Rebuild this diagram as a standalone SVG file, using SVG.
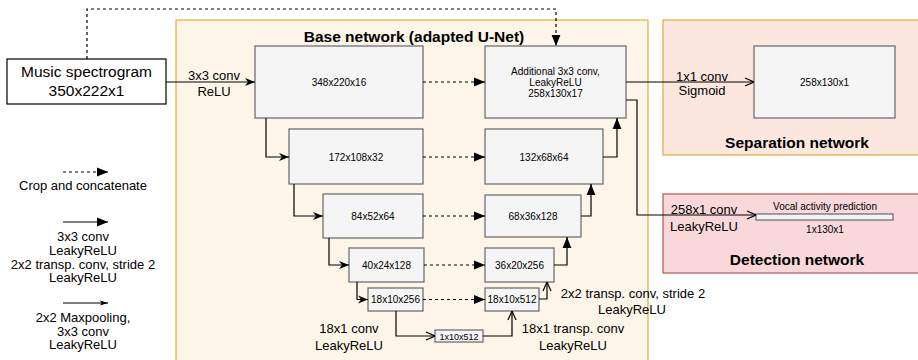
<svg xmlns="http://www.w3.org/2000/svg" width="918" height="360" viewBox="0 0 918 360">
<style>
text{font-family:"Liberation Sans",Arial,sans-serif;fill:#000}
.lbl{font-size:13px;text-anchor:middle}
.box{fill:#f5f5f5;stroke:#666;stroke-width:1.2}
.bt{font-size:10px;text-anchor:middle}
.title{font-size:15.5px;font-weight:bold;text-anchor:middle}
.c{fill:none;stroke:#000;stroke-width:1.2}
.d{stroke-dasharray:3,3}
</style>
<defs>
<marker id="blk" viewBox="0 0 10 10" refX="10" refY="5" markerWidth="11" markerHeight="11" markerUnits="userSpaceOnUse" orient="auto"><path d="M0,1 L10,5 L0,9 z" fill="#000"/></marker>
<marker id="cls" viewBox="0 0 10 10" refX="10" refY="5" markerWidth="11" markerHeight="10" markerUnits="userSpaceOnUse" orient="auto"><path d="M0,1 L10,5 L0,9 L3,5 z" fill="#000"/></marker>
<marker id="thin" viewBox="0 0 10 10" refX="10" refY="5" markerWidth="11" markerHeight="8" markerUnits="userSpaceOnUse" orient="auto"><path d="M0,2 L10,5 L0,8 L2,5 z" fill="#000"/></marker>
<marker id="opn" viewBox="0 0 10 10" refX="10" refY="5" markerWidth="10" markerHeight="10" markerUnits="userSpaceOnUse" orient="auto"><path d="M1,1 L10,5 L1,9" fill="none" stroke="#000" stroke-width="1.2"/></marker>
</defs>
<rect width="918" height="360" fill="#fff"/>

<g id="base-network">
<rect x="176" y="20" width="472" height="360" fill="#fdf6e8" stroke="#dcae3c" stroke-width="1.2"/>
<text class="title" x="414" y="42">Base network (adapted U-Net)</text>
</g>
<g id="separation-network">
<rect x="663" y="20" width="270" height="135" fill="#fce7de" stroke="#dcae3c" stroke-width="1.2"/>
<text class="title" x="797" y="148">Separation network</text>
</g>
<g id="detection-network">
<rect x="663" y="194" width="270" height="79" fill="#f8d8d8" stroke="#b85450" stroke-width="1.2"/>
<text class="title" x="797" y="265">Detection network</text>
</g>

<g id="music-spectrogram">
<rect x="7" y="59" width="159" height="45" fill="#fff" stroke="#000" stroke-width="1.2"/>
<text x="86.5" y="77" style="font-size:15.5px;text-anchor:middle">Music spectrogram</text>
<text x="86.5" y="96" style="font-size:15.5px;text-anchor:middle">350x222x1</text>
</g>

<g id="enc1"><rect class="box" x="255" y="46" width="168" height="72"/><text class="bt" x="339" y="86">348x220x16</text></g>
<g id="enc2"><rect class="box" x="289" y="129" width="134" height="55"/><text class="bt" x="356" y="161">172x108x32</text></g>
<g id="enc3"><rect class="box" x="323" y="194" width="100" height="44"/><text class="bt" x="373" y="220">84x52x64</text></g>
<g id="enc4"><rect class="box" x="349" y="248" width="75" height="34"/><text class="bt" x="386.5" y="269">40x24x128</text></g>
<g id="enc5"><rect class="box" x="368" y="288" width="55" height="23"/><text class="bt" x="395.5" y="303">18x10x256</text></g>
<g id="bottleneck"><rect class="box" x="435" y="330" width="48" height="12"/><text x="459" y="339.5" style="font-size:9px;text-anchor:middle">1x10x512</text></g>
<g id="dec5"><rect class="box" x="485" y="288" width="54" height="23"/><text class="bt" x="512" y="303">18x10x512</text></g>
<g id="dec4"><rect class="box" x="485" y="248" width="69" height="34"/><text class="bt" x="519.5" y="269">36x20x256</text></g>
<g id="dec3"><rect class="box" x="485" y="195" width="96" height="42"/><text class="bt" x="533" y="220">68x36x128</text></g>
<g id="dec2"><rect class="box" x="485" y="129" width="118" height="55"/><text class="bt" x="544" y="161">132x68x64</text></g>
<g id="dec1"><rect class="box" x="485" y="46" width="141" height="72"/>
<text class="bt" x="555.5" y="74.5">Additional 3x3 conv,</text>
<text class="bt" x="555.5" y="85.5">LeakyReLU</text>
<text class="bt" x="555.5" y="96.5">258x130x17</text></g>
<g id="separation-output"><rect class="box" x="754" y="46" width="141" height="72"/><text class="bt" x="824.5" y="86">258x130x1</text></g>
<g id="vocal-activity"><rect class="box" x="756" y="214" width="137" height="6"/>
<text class="bt" x="825" y="210">Vocal activity prediction</text>
<text class="bt" x="825" y="232.5">1x130x1</text></g>

<g id="connectors">
<path class="c" d="M166,82 H255" marker-end="url(#cls)"/>
<path class="c d" d="M87,59 V9 H556 V46" marker-end="url(#blk)"/>
<path class="c d" d="M423,82 H485" marker-end="url(#blk)"/>
<path class="c d" d="M423,157 H485" marker-end="url(#blk)"/>
<path class="c d" d="M423,216 H485" marker-end="url(#blk)"/>
<path class="c d" d="M424,265 H485" marker-end="url(#blk)"/>
<path class="c d" d="M423,299.5 H485" marker-end="url(#blk)"/>
<path class="c" d="M266,118 V157 H289" marker-end="url(#cls)"/>
<path class="c" d="M294,184 V216 H323" marker-end="url(#cls)"/>
<path class="c" d="M329,238 V265 H349" marker-end="url(#cls)"/>
<path class="c" d="M357,282 V299.5 H368" marker-end="url(#cls)"/>
<path class="c" d="M396,311 V336 H435" marker-end="url(#opn)"/>
<path class="c" d="M483,336 H512 V311" marker-end="url(#opn)"/>
<path class="c" d="M539,299 H547 V282" marker-end="url(#opn)"/>
<path class="c" d="M554,265 H567 V237" marker-end="url(#blk)"/>
<path class="c" d="M581,216 H591 V184" marker-end="url(#blk)"/>
<path class="c" d="M603,157 H617 V118" marker-end="url(#blk)"/>
<path class="c" d="M626,82 H754" marker-end="url(#opn)"/>
<path class="c" d="M626,100 H637 V215 H756" marker-end="url(#opn)"/>
</g>

<g id="edge-labels">
<text class="lbl" x="214" y="80">3x3 conv</text>
<text class="lbl" x="214" y="95.5">ReLU</text>
<text class="lbl" x="702" y="81">1x1 conv</text>
<text class="lbl" x="702" y="95">Sigmoid</text>
<text class="lbl" x="704" y="213.5">258x1 conv</text>
<text class="lbl" x="704" y="230.5">LeakyReLU</text>
<text class="lbl" x="633" y="297.5">2x2 transp. conv, stride 2</text>
<text class="lbl" x="632" y="313.5">LeakyReLU</text>
<text class="lbl" x="349" y="332.5">18x1 conv</text>
<text class="lbl" x="349" y="349.5">LeakyReLU</text>
<text class="lbl" x="573" y="332.5">18x1 transp. conv</text>
<text class="lbl" x="573" y="349.5">LeakyReLU</text>
</g>

<g id="legend">
<path class="c d" d="M63,172 H108" marker-end="url(#blk)"/>
<text class="lbl" x="83" y="189.5">Crop and concatenate</text>
<path class="c" d="M63,222 H108" stroke-width="1.4" marker-end="url(#blk)"/>
<text class="lbl" x="83" y="241">3x3 conv</text>
<text class="lbl" x="83" y="254.5">LeakyReLU</text>
<text class="lbl" x="83" y="268.5">2x2 transp. conv, stride 2</text>
<text class="lbl" x="83" y="282">LeakyReLU</text>
<path class="c" d="M63,303 H108" stroke-width="1" marker-end="url(#thin)"/>
<text class="lbl" x="83" y="322">2x2 Maxpooling,</text>
<text class="lbl" x="83" y="335.5">3x3 conv</text>
<text class="lbl" x="83" y="349">LeakyReLU</text>
</g>
</svg>
